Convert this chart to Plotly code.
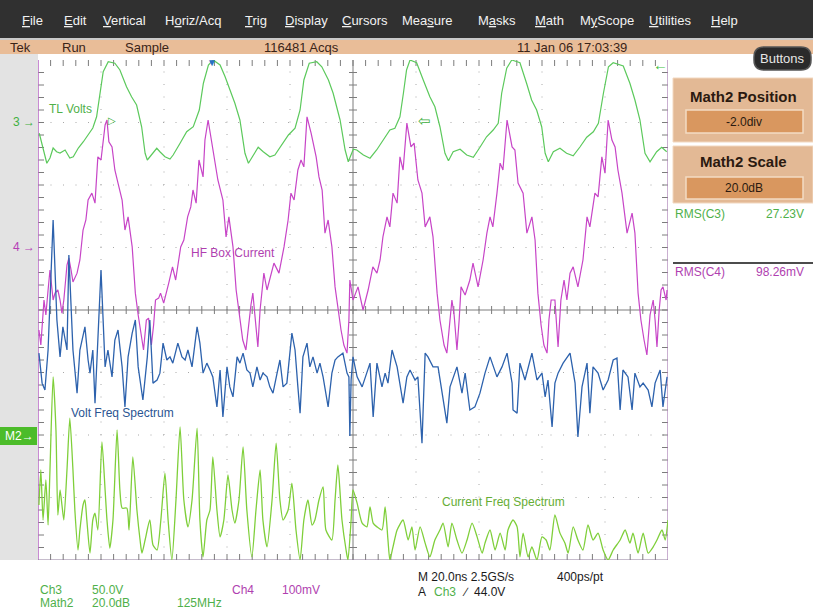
import plotly.graph_objects as go

# ---------------- acquisition / channel settings ----------------
TIME_PER_DIV_NS = 20.0
H_DIVS = 10
V_DIVS = 8
CH3_VOLTS_PER_DIV = 50.0
CH3_POSITION_DIV = 3.0
CH4_MV_PER_DIV = 100.0
CH4_POSITION_DIV = 1.0
MATH2_DB_PER_DIV = 20.0
MATH2_POSITION_DIV = -2.0

# ---------------- waveform records ----------------
# Ch3 "TL Volts" (ns, V)
tl_volts_t = [
    -99.6, -97.2, -96.2, -95.2, -94.1, -93.0, -91.4, -89.9, -88.8, -87.2,
    -85.6, -84.0, -82.6, -81.4, -80.3, -79.3, -77.7, -75.6, -74.0, -71.9,
    -70.3, -68.7, -67.1, -66.0, -65.3, -63.9, -62.3, -61.3, -59.7, -58.1,
    -57.1, -54.9, -52.8, -50.7, -48.8, -47.5, -45.9, -44.4, -42.2, -40.6,
    -39.1, -37.5, -35.9, -34.3, -33.2, -31.7, -30.1, -28.5, -26.4, -24.8,
    -22.6, -20.5, -18.4, -16.8, -15.6, -13.9, -11.5, -9.9, -7.8, -6.3,
    -4.1, -2.5, -1.5, 0.1, 1.2, 3.3, 5.4, 7.5, 9.6, 11.7,
    13.3, 14.9, 16.0, 17.0, 18.1, 20.2, 22.3, 24.4, 26.0, 27.6,
    29.2, 30.3, 31.8, 34.0, 36.1, 38.2, 40.3, 42.4, 44.5, 46.1,
    47.2, 48.8, 50.4, 53.0, 55.1, 56.7, 58.3, 59.9, 61.0, 62.0,
    63.6, 65.7, 67.8, 69.9, 72.1, 74.2, 76.3, 77.9, 79.5, 81.1,
    82.6, 85.8, 87.9, 89.5, 91.1, 92.7, 94.3, 96.4, 98.0, 99.6,
]
tl_volts_v = [
    -8.6, -32.6, -28.4, -20.4, -23.4, -24.4, -22.0, -28.4, -27.4, -20.4,
    -15.4, -10.0, -4.4, 4.6, 23.4, 40.6, 48.6, 47.4, 42.0, 28.6,
    20.6, 14.0, -3.4, -24.6, -30.0, -26.0, -20.6, -23.4, -27.4, -29.2,
    -26.0, -16.6, -7.4, -3.4, 10.0, 31.4, 46.0, 50.0, 46.0, 36.6,
    26.0, 15.4, 2.0, -24.6, -32.6, -26.0, -19.8, -23.4, -27.4, -26.0,
    -18.0, -10.0, -4.6, 10.0, 34.0, 47.4, 48.6, 44.6, 34.0, 23.4,
    2.0, -22.0, -31.4, -21.4, -22.0, -26.0, -28.6, -22.0, -14.0, -6.0,
    -4.6, 4.6, 23.4, 42.0, 50.0, 47.8, 34.0, 20.6, 12.6, -3.4,
    -24.6, -30.6, -23.4, -21.4, -26.0, -27.8, -19.8, -11.4, -6.0, -0.6,
    23.4, 43.4, 50.0, 47.8, 31.4, 18.0, 10.0, -3.4, -24.6, -31.4,
    -23.4, -20.6, -24.6, -26.6, -19.4, -11.8, -7.4, -0.6, 23.4, 44.6,
    47.8, 45.2, 31.4, 18.0, 2.0, -24.6, -31.4, -23.4, -19.8, -23.4,
]

# Ch4 "HF Box Current" (ns, mV)
hf_current_t = [
    -99.7, -99.1, -98.1, -97.5, -96.8, -96.2, -95.2, -94.6, -93.7, -93.0,
    -92.4, -91.8, -90.8, -90.2, -89.5, -88.9, -87.6, -86.7, -85.7, -84.8,
    -84.1, -82.9, -81.9, -81.0, -80.0, -78.7, -78.1, -77.5, -76.5, -75.6,
    -74.6, -73.3, -72.4, -71.4, -70.1, -69.1, -68.2, -67.2, -66.5, -65.6,
    -64.9, -64.0, -63.3, -62.7, -61.7, -61.1, -60.1, -58.5, -57.3, -56.3,
    -54.7, -53.7, -52.5, -51.5, -50.8, -49.8, -48.9, -47.6, -47.0, -46.0,
    -45.1, -44.1, -42.9, -41.3, -40.3, -39.4, -38.1, -37.1, -35.9, -35.0,
    -34.0, -33.0, -32.4, -31.8, -31.1, -30.2, -29.5, -28.9, -28.3, -27.3,
    -26.0, -25.1, -23.5, -21.9, -20.6, -19.7, -18.7, -17.5, -16.5, -15.6,
    -14.6, -13.3, -11.7, -10.8, -9.8, -8.9, -7.9, -6.7, -5.7, -4.8,
    -3.8, -2.9, -1.9, -1.3, -1.0, 0.0, 0.6, 1.6, 2.5, 3.2,
    4.8, 6.3, 7.6, 8.6, 9.5, 10.8, 11.7, 12.7, 14.0, 14.9,
    15.9, 17.1, 18.4, 19.4, 20.6, 21.9, 22.9, 24.4, 25.4, 26.7,
    27.6, 28.9, 29.8, 30.8, 31.4, 32.1, 33.0, 33.7, 34.3, 35.6,
    37.1, 38.1, 39.7, 41.3, 42.5, 43.5, 44.4, 45.7, 46.7, 47.6,
    48.9, 50.5, 51.4, 52.4, 54.0, 55.2, 56.8, 57.8, 58.7, 59.7,
    60.6, 61.6, 62.2, 62.9, 64.1, 65.1, 66.0, 67.0, 67.9, 68.9,
    69.9, 71.4, 73.0, 74.3, 75.2, 76.8, 77.8, 79.0, 80.0, 81.0,
    82.2, 83.2, 84.1, 85.4, 87.0, 88.6, 89.5, 90.5, 91.4, 92.4,
    93.3, 94.3, 95.3, 95.9, 96.5, 97.2, 97.8, 98.4, 99.4, 99.7,
]
hf_current_mv = [
    -132, -156, -84, -108, -68, -36, -84, -73, -68, -84,
    -105, -84, -28, -17, -36, -55, -41, -20, 28, 44,
    76, 87, 71, 145, 140, 196, 204, 169, 161, 124,
    103, 76, 28, 49, 1, -73, -108, -140, -164, -116,
    -113, -156, -124, -84, -81, -73, -89, -57, -31, -52,
    1, 12, 49, 65, 92, 71, 140, 113, 172, 204,
    177, 145, 108, 76, 17, 49, 1, -68, -116, -148,
    -164, -116, -92, -73, -116, -159, -100, -73, -41, -68,
    -41, -25, -41, 1, 44, 87, 76, 124, 140, 129,
    209, 183, 145, 113, 92, 23, 44, 1, -63, -100,
    -132, -156, -169, -116, -52, -84, -76, -63, -84, -100,
    -68, -31, -41, -20, 17, 49, 33, 87, 71, 145,
    124, 199, 161, 167, 108, 87, 33, 49, 17, -73,
    -116, -156, -169, -116, -84, -108, -164, -116, -63, -76,
    -52, -25, -63, -20, 23, 49, 33, 87, 135, 124,
    204, 161, 156, 103, 87, 23, 49, 12, -73, -124,
    -156, -169, -116, -84, -84, -159, -84, -52, -84, -41,
    -31, -63, -20, 49, 33, 87, 81, 145, 119, 204,
    172, 161, 124, 87, 23, 55, 23, -73, -116, -148,
    -172, -108, -84, -116, -159, -100, -68, -63, -84, -68,
]

# "Volt Freq Spectrum" (record position in ns, dB)
volt_spec_t = [
    -99.7, -98.7, -97.8, -96.8, -95.2, -94.0, -93.0, -92.1, -90.8, -90.2,
    -88.9, -87.6, -86.7, -85.1, -84.1, -83.5, -82.6, -81.9, -81.0, -80.0,
    -78.7, -77.8, -76.5, -75.6, -74.6, -73.3, -72.4, -71.4, -70.1, -69.1,
    -68.2, -66.7, -65.3, -64.5, -63.5, -62.2, -61.3, -60.3, -59.1, -58.1,
    -57.2, -55.6, -54.3, -53.3, -52.4, -51.1, -49.5, -48.6, -47.6, -46.4,
    -45.4, -44.5, -43.2, -42.2, -41.3, -40.0, -39.1, -38.1, -36.8, -35.9,
    -34.9, -33.7, -32.7, -31.8, -30.5, -29.5, -28.6, -27.3, -26.4, -25.4,
    -24.1, -23.2, -22.2, -21.0, -19.4, -18.4, -17.5, -16.8, -15.9, -14.6,
    -13.7, -12.7, -11.4, -10.5, -9.5, -7.9, -6.7, -5.7, -4.8, -3.2,
    -1.9, -1.3, -1.0, -0.6, 0.0, 1.3, 2.9, 4.4, 5.4, 6.4,
    7.6, 9.2, 10.2, 11.1, 12.4, 14.0, 15.9, 17.1, 18.1, 19.7,
    20.6, 21.9, 22.9, 23.8, 25.4, 27.0, 28.6, 29.8, 30.8, 33.0,
    34.6, 35.6, 37.1, 38.7, 40.3, 41.9, 43.5, 45.7, 47.3, 48.9,
    50.5, 50.8, 52.1, 53.0, 54.6, 56.8, 58.4, 60.0, 61.0, 61.9,
    63.2, 64.1, 65.1, 66.7, 68.9, 70.5, 71.4, 72.7, 74.3, 75.2,
    76.2, 77.8, 79.4, 81.0, 82.6, 83.8, 84.8, 85.7, 87.3, 88.6,
    89.5, 91.1, 92.1, 93.7, 94.9, 95.9, 97.5, 98.4, 99.7,
]
volt_spec_db = [
    26.2, 16.6, 14.4, 27.2, 68.8, 36.8, 25.0, 34.6, 27.2, 57.6,
    27.2, 13.4, 27.2, 34.6, 24.0, 19.8, 27.2, 10.2, 30.4, 52.8,
    21.8, 27.2, 18.6, 30.4, 33.6, 21.8, 9.0, 25.0, 32.6, 36.8,
    21.8, 11.2, 25.0, 36.8, 16.6, 17.6, 19.8, 29.4, 24.0, 25.0,
    23.0, 29.4, 25.0, 24.0, 27.2, 21.8, 34.6, 29.4, 19.8, 23.0,
    20.8, 18.6, 9.0, 20.8, 5.8, 21.8, 15.4, 12.2, 25.0, 23.0,
    26.2, 20.8, 19.8, 15.4, 21.8, 17.6, 19.8, 18.6, 15.4, 13.4,
    19.8, 24.0, 15.4, 16.6, 32.6, 27.2, 15.4, 7.0, 25.0, 29.4,
    21.8, 25.0, 19.8, 23.0, 18.6, 9.0, 19.8, 24.0, 25.0, 26.2,
    19.8, 18.6, -0.3, 17.6, 25.0, 18.6, 15.4, 19.8, 23.0, 5.8,
    23.0, 15.4, 19.8, 16.6, 27.2, 21.8, 10.2, 18.6, 20.8, 17.6,
    18.6, -2.6, 26.2, 25.0, 21.8, 21.8, 12.2, 3.8, 15.4, 21.8,
    13.4, 19.8, 8.0, 9.0, 13.4, 19.8, 25.0, 18.6, 21.8, 26.2,
    16.6, 8.0, 7.0, 23.0, 17.6, 26.2, 17.6, 19.8, 12.2, 17.6,
    2.6, 16.6, 19.8, 23.0, 26.2, 16.6, -0.6, 15.4, 23.0, 7.0,
    21.8, 19.8, 14.4, 17.6, 24.0, 24.6, 8.0, 20.8, 18.6, 8.0,
    19.8, 15.4, 16.6, 14.4, 9.0, 16.6, 20.8, 9.0, 18.6,
]

# Math2 "Current Freq Spectrum" (record position in ns, dB)
current_spec_t = [
    -99.7, -99.1, -98.4, -97.5, -96.8, -96.2, -95.2, -94.3, -93.7, -93.0,
    -92.4, -91.8, -90.8, -89.9, -88.9, -88.3, -87.3, -86.7, -85.7, -85.1,
    -84.5, -83.5, -82.6, -81.9, -81.0, -79.7, -78.7, -78.1, -77.2, -76.2,
    -74.9, -74.0, -73.3, -71.8, -71.1, -69.9, -68.6, -67.6, -67.0, -66.0,
    -64.5, -63.5, -62.2, -61.0, -59.7, -58.7, -57.5, -56.2, -54.9, -53.7,
    -52.4, -51.1, -49.5, -48.6, -47.6, -46.4, -45.4, -44.5, -43.2, -42.2,
    -41.0, -39.7, -38.4, -37.5, -36.2, -34.9, -33.7, -32.1, -30.8, -29.5,
    -28.6, -27.3, -25.7, -24.4, -23.2, -22.2, -20.6, -19.4, -18.1, -16.8,
    -15.6, -14.3, -13.0, -12.1, -10.8, -9.5, -8.6, -6.7, -5.7, -4.8,
    -3.5, -2.2, -1.6, -0.6, 0.0, 1.3, 2.9, 4.4, 5.4, 6.4,
    7.6, 9.2, 10.2, 11.1, 11.7, 12.7, 14.0, 15.9, 17.5, 18.7,
    19.7, 21.3, 22.9, 24.4, 26.0, 27.6, 28.6, 30.2, 31.4, 33.0,
    34.6, 36.2, 37.8, 39.4, 41.0, 41.9, 43.5, 45.1, 46.7, 48.3,
    49.2, 50.8, 52.1, 53.0, 54.0, 55.6, 56.8, 58.4, 60.0, 61.3,
    62.5, 64.1, 65.7, 67.3, 68.3, 69.9, 71.4, 73.0, 74.6, 76.2,
    77.8, 79.4, 81.0, 82.6, 84.8, 86.4, 87.9, 88.9, 90.5, 92.1,
    93.7, 95.3, 96.5, 98.1, 99.1, 100.0,
]
current_spec_db = [
    -22.4, -11.2, -27.2, -14.4, -28.8, -11.2, 18.6, 1.6, -25.6, -17.6,
    -22.4, -27.2, -11.2, 5.4, -11.2, -24.0, -36.8, -30.4, -22.4, -20.8,
    -27.2, -37.8, -27.2, -25.0, -30.4, -2.2, -17.6, -27.2, -36.2, -27.2,
    1.6, -17.6, -23.4, -23.4, -30.4, -7.0, -24.0, -33.6, -37.8, -33.6,
    -27.2, -35.2, -36.8, -27.2, -12.2, -27.2, -40.0, -20.8, 2.6, -20.8,
    -29.4, -20.8, 2.2, -27.2, -39.0, -27.2, -24.0, -7.0, -24.0, -32.6,
    -27.2, -12.8, -24.0, -28.2, -20.8, -3.8, -24.0, -39.0, -24.0, -11.2,
    -27.2, -35.8, -20.8, -2.6, -20.8, -27.2, -24.0, -15.4, -30.4, -40.0,
    -27.2, -20.8, -28.8, -27.2, -20.8, -16.6, -30.4, -33.6, -20.8, -9.6,
    -27.2, -36.8, -40.0, -27.2, -17.6, -21.8, -28.2, -29.4, -23.0, -28.2,
    -29.4, -30.4, -23.0, -33.6, -40.0, -35.8, -30.4, -27.2, -33.6, -29.4,
    -36.8, -29.4, -34.6, -39.0, -33.6, -30.4, -28.2, -35.8, -28.2, -33.6,
    -37.8, -33.6, -28.2, -32.6, -37.8, -34.6, -30.4, -36.8, -31.4, -36.8,
    -30.4, -27.2, -29.4, -39.0, -31.4, -39.0, -35.8, -40.0, -32.6, -33.6,
    -36.8, -25.6, -31.4, -34.6, -37.8, -29.4, -33.6, -36.8, -28.8, -33.6,
    -31.4, -36.8, -40.0, -36.8, -33.6, -30.4, -34.6, -31.4, -37.8, -31.4,
    -37.8, -35.8, -33.6, -30.4, -33.6, -27.2,
]

# ---------------- page geometry (pixels) ----------------
W, H = 813, 609
GX0, GX1, GY0, GY1 = 38, 668, 60, 560   # graticule box


def px(x):
    return x / W


def py(y):
    return 1 - y / H


GREEN = "#5cc95c"
SPEC_GREEN = "#7fcf3a"
MAGENTA = "#c745c7"
BLUE = "#2d62ad"
TXT_GREEN = "#4fb04a"
TXT_MAGENTA = "#b03fb0"
NARROW = "Liberation Sans Narrow, Liberation Sans, Arial, sans-serif"
SANS = "Liberation Sans, Arial, sans-serif"

fig = go.Figure()

half_t = H_DIVS * TIME_PER_DIV_NS / 2
half_v = V_DIVS / 2


def div_range(per_div, pos):
    return [(-half_v - pos) * per_div, (half_v - pos) * per_div]


fig.add_trace(go.Scatter(x=tl_volts_t, y=tl_volts_v, yaxis="y2", mode="lines",
                         line=dict(color=GREEN, width=1.2), hoverinfo="skip"))
fig.add_trace(go.Scatter(x=hf_current_t, y=hf_current_mv, yaxis="y3", mode="lines",
                         line=dict(color=MAGENTA, width=1.2), hoverinfo="skip"))
fig.add_trace(go.Scatter(x=current_spec_t, y=current_spec_db, yaxis="y4", mode="lines",
                         line=dict(color=SPEC_GREEN, width=1.3, shape="spline", smoothing=0.6),
                         hoverinfo="skip"))
fig.add_trace(go.Scatter(x=volt_spec_t, y=volt_spec_db, yaxis="y4", mode="lines",
                         line=dict(color=BLUE, width=1.3), hoverinfo="skip"))

dom_x = [px(GX0), px(GX1)]
dom_y = [py(GY1), py(GY0)]
hidden = dict(visible=False, fixedrange=True)
fig.update_layout(
    width=W, height=H, margin=dict(l=0, r=0, t=0, b=0),
    paper_bgcolor="white", plot_bgcolor="rgba(0,0,0,0)", showlegend=False,
    xaxis=dict(domain=dom_x, range=[-half_t, half_t], **hidden),
    yaxis=dict(domain=dom_y, range=[-half_v, half_v], **hidden),
    yaxis2=dict(domain=dom_y, overlaying="y", range=div_range(CH3_VOLTS_PER_DIV, CH3_POSITION_DIV), **hidden),
    yaxis3=dict(domain=dom_y, overlaying="y", range=div_range(CH4_MV_PER_DIV, CH4_POSITION_DIV), **hidden),
    yaxis4=dict(domain=dom_y, overlaying="y", range=div_range(MATH2_DB_PER_DIV, MATH2_POSITION_DIV), **hidden),
)

shapes = []


def rect(x0, y0, x1, y1, fill, line=None, lw=0, layer="below"):
    shapes.append(dict(type="rect", xref="paper", yref="paper",
                       x0=px(x0), x1=px(x1), y0=py(y1), y1=py(y0),
                       fillcolor=fill, line=dict(color=line or fill, width=lw), layer=layer))


def hline_px(x0, x1, y, color, width=1, layer="above"):
    shapes.append(dict(type="line", xref="paper", yref="paper",
                       x0=px(x0), x1=px(x1), y0=py(y), y1=py(y),
                       line=dict(color=color, width=width), layer=layer))


def rounded(x0, y0, x1, y1, r, fill, line):
    p = (f"M {px(x0 + r)},{py(y0)} L {px(x1 - r)},{py(y0)} Q {px(x1)},{py(y0)} {px(x1)},{py(y0 + r)} "
         f"L {px(x1)},{py(y1 - r)} Q {px(x1)},{py(y1)} {px(x1 - r)},{py(y1)} "
         f"L {px(x0 + r)},{py(y1)} Q {px(x0)},{py(y1)} {px(x0)},{py(y1 - r)} "
         f"L {px(x0)},{py(y0 + r)} Q {px(x0)},{py(y0)} {px(x0 + r)},{py(y0)} Z")
    shapes.append(dict(type="path", xref="paper", yref="paper", path=p,
                       fillcolor=fill, line=dict(color=line, width=1.5), layer="above"))


# window chrome
rect(0, 0, W, 38, "#303030")
rect(0, 38, W, 40, "#c9c9c9")
rect(0, 40, W, 54, "#e9bd98")
rect(0, 54, GX0, GY1, "#e3e3e3")
rounded(754, 47, 811, 70, 10, "#2a2a2a", "#555555")
rect(0, 427, 37, 445, "#4cbc2a", layer="above")

# right-hand control panels
rect(673, 78, W, 142, "#e3b995", "#f2d8c0", 1)
rect(686, 110, 803, 133, "#d9975f", "#f3dcc4", 1.5)
rect(673, 146, W, 203, "#e3b995", "#f2d8c0", 1)
rect(686, 177, 803, 199, "#d9975f", "#f3dcc4", 1.5)
hline_px(673, W, 263, "#111111", 1.5)

# graticule: dotted division lines
dot = "1px,11.5px"
for k in range(1, H_DIVS):
    t = -half_t + k * TIME_PER_DIV_NS
    if abs(t) < 1e-9:
        continue
    shapes.append(dict(type="line", xref="x", yref="y", x0=t, x1=t, y0=-half_v, y1=half_v,
                       line=dict(color="#a8a8a8", width=1, dash=dot), layer="below"))
for k in range(1, V_DIVS):
    v = -half_v + k
    if abs(v) < 1e-9:
        continue
    shapes.append(dict(type="line", xref="x", yref="y", x0=-half_t, x1=half_t, y0=v, y1=v,
                       line=dict(color="#a8a8a8", width=1, dash=dot), layer="below"))

# graticule: center cross and minor ticks
ns_per_px = TIME_PER_DIV_NS / ((GX1 - GX0) / H_DIVS)
div_per_px = 1 / ((GY1 - GY0) / V_DIVS)
edge_h, edge_v = 6 * ns_per_px, 6 * div_per_px
ctr_h, ctr_v = 4 * ns_per_px, 4 * div_per_px
segs = [f"M {-half_t},0 L {half_t},0", f"M 0,{-half_v} L 0,{half_v}"]
step_t = TIME_PER_DIV_NS / 5
for k in range(1, H_DIVS * 5):
    t = -half_t + k * step_t
    segs.append(f"M {t},{half_v} L {t},{half_v - edge_v}")
    segs.append(f"M {t},{-half_v} L {t},{-half_v + edge_v}")
    segs.append(f"M {t},{-ctr_v} L {t},{ctr_v}")
for k in range(1, V_DIVS * 5):
    v = -half_v + k * 0.2
    segs.append(f"M {-half_t},{v} L {-half_t + edge_h},{v}")
    segs.append(f"M {half_t},{v} L {half_t - edge_h},{v}")
    segs.append(f"M {-ctr_h},{v} L {ctr_h},{v}")
shapes.append(dict(type="path", xref="x", yref="y", path=" ".join(segs),
                   line=dict(color="#7c7c7c", width=1), layer="below"))
# frame
shapes.append(dict(type="line", xref="x", yref="y", x0=-half_t, x1=-half_t, y0=-half_v, y1=half_v,
                   line=dict(color="#b765c4", width=1.5), layer="below"))
shapes.append(dict(type="line", xref="x", yref="y", x0=half_t, x1=half_t, y0=-half_v, y1=half_v,
                   line=dict(color="#a77ab3", width=1.2), layer="below"))
shapes.append(dict(type="line", xref="x", yref="y", x0=-half_t, x1=half_t, y0=-half_v, y1=-half_v,
                   line=dict(color="#8d7b99", width=1.2), layer="below"))

fig.update_layout(shapes=shapes)

anns = []


def txt(x, y, s, color, size=12, anchor="left", family=NARROW):
    anns.append(dict(xref="paper", yref="paper", x=px(x), y=py(y), text=s, showarrow=False,
                     xanchor=anchor, yanchor="middle", font=dict(color=color, size=size, family=family)))


# menu bar
menu = [(20, "<u>F</u>ile"), (62, "<u>E</u>dit"), (101, "<u>V</u>ertical"), (163, "H<u>o</u>riz/Acq"),
        (243, "<u>T</u>rig"), (283, "<u>D</u>isplay"), (340, "<u>C</u>ursors"), (400, "Mea<u>s</u>ure"),
        (476, "M<u>a</u>sks"), (533, "<u>M</u>ath"), (578, "M<u>y</u>Scope"), (647, "<u>U</u>tilities"),
        (709, "<u>H</u>elp")]
for x, s in menu:
    txt(x, 21, s, "#f2f2f2", 13, family=SANS)

# status line
txt(8, 47, "Tek", "#3a2418", 13)
txt(60, 47, "Run", "#3a2418", 13)
txt(123, 47, "Sample", "#3a2418", 13)
txt(262, 47, "116481 Acqs", "#3a2418", 13)
txt(515, 47, "11 Jan 06 17:03:39", "#3a2418", 13)
txt(782, 59, "Buttons", "#e6e6e6", 13, "center")

# panels
txt(743, 96, "<b>Math2 Position</b>", "#2b1a10", 15, "center", SANS)
txt(744, 122, "-2.0div", "#2b1a10", 12, "center")
txt(743, 161, "<b>Math2 Scale</b>", "#2b1a10", 15, "center", SANS)
txt(744, 188, "20.0dB", "#2b1a10", 12, "center")
txt(673, 214, "RMS(C3)", TXT_GREEN, 12)
txt(806, 214, "27.23V", TXT_GREEN, 12, "right")
txt(673, 272, "RMS(C4)", TXT_MAGENTA, 12)
txt(806, 272, "98.26mV", TXT_MAGENTA, 12, "right")

# trace labels
txt(47, 109, "TL Volts", TXT_GREEN, 12)
txt(189, 253, "HF Box Current", TXT_MAGENTA, 12)
txt(69, 413, "Volt Freq Spectrum", "#2a5592", 12)
txt(440, 502, "Current Freq Spectrum", "#66ad35", 12)

# channel ground / reference markers
txt(37, 122, "3 \u2192", "#3fb03f", 12, "right")
txt(37, 247, "4 \u2192", "#b63fb6", 12, "right")
txt(36, 436, "M2\u2192", "#ffffff", 12, "right")
txt(212, 63, "\u25bc", "#2b6fc4", 10, "center", SANS)
txt(660, 65, "\u2190", "#3fbf3f", 15, "center", SANS)
txt(112, 121, "\u25b7", "#3fb03f", 10, "center", SANS)
txt(424, 121, "\u21e6", "#3fb03f", 15, "center", SANS)

# readouts
txt(38, 590, "Ch3", TXT_GREEN, 12)
txt(90, 590, "50.0V", TXT_GREEN, 12)
txt(230, 590, "Ch4", TXT_MAGENTA, 12)
txt(280, 590, "100mV", TXT_MAGENTA, 12)
txt(38, 603, "Math2", TXT_GREEN, 12)
txt(90, 603, "20.0dB", TXT_GREEN, 12)
txt(175, 603, "125MHz", TXT_GREEN, 12)
txt(416, 577, "M 20.0ns 2.5GS/s", "#1a1a1a", 12)
txt(555, 577, "400ps/pt", "#1a1a1a", 12)
txt(416, 592, "A", "#1a1a1a", 12)
txt(432, 592, "Ch3", TXT_GREEN, 12)
txt(460, 592, "\u2215", "#1a1a1a", 12)
txt(472, 592, "44.0V", "#1a1a1a", 12)

fig.update_layout(annotations=anns)
fig.write_html("out.html")
